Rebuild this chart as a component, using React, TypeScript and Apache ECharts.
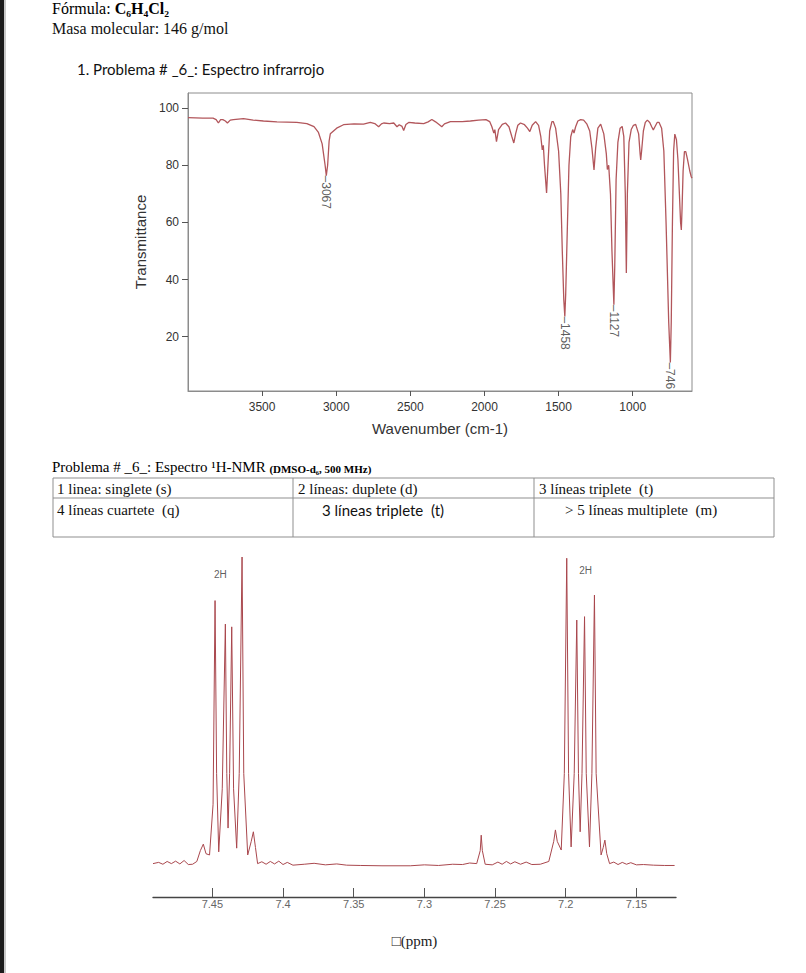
import React, { useEffect, useRef } from 'react';
import * as echarts from 'echarts';

// ---------- IR spectrum data ----------
const irWavenumber = [
  4000, 3900, 3831, 3810, 3795, 3780, 3765, 3748, 3734, 3715, 3694, 3626, 3560, 3491, 3400, 3266, 3198, 3150, 3120, 3095,
  3075, 3067, 3058, 3048, 3040, 2997, 2951, 2880, 2816, 2770, 2740, 2714, 2695, 2680, 2640, 2612, 2590, 2575, 2556, 2545,
  2530, 2511, 2470, 2410, 2380, 2355, 2330, 2300, 2288, 2270, 2230, 2150, 2095, 2040, 1990, 1965, 1950, 1937, 1930, 1919,
  1905, 1880, 1858, 1835, 1815, 1802, 1790, 1775, 1757, 1730, 1710, 1694, 1678, 1655, 1635, 1620, 1610, 1603, 1595, 1581,
  1570, 1560, 1545, 1536, 1520, 1500, 1485, 1475, 1465, 1458, 1452, 1440, 1430, 1418, 1405, 1396, 1385, 1370, 1351, 1331,
  1310, 1290, 1275, 1261, 1250, 1235, 1216, 1195, 1178, 1171, 1162, 1150, 1140, 1127, 1121, 1112, 1100, 1085, 1071, 1060,
  1050, 1043, 1036, 1025, 1010, 995, 980, 960, 950, 946, 940, 928, 915, 901, 885, 872, 861, 850, 835, 822,
  805, 790, 775, 757, 746, 740, 732, 724, 716, 705, 695, 685, 677, 672, 667, 660, 651, 642, 630, 615,
  605, 600,
];
const irTransmittance = [
  96.7, 96.5, 96.5, 96.0, 94.8, 96.0, 96.0, 95.5, 94.8, 95.8, 96.0, 96.3, 95.8, 95.5, 95.2, 95.0, 94.6, 93.5, 91.5, 87.5,
  80.0, 76.4, 80.0, 88.5, 91.0, 93.0, 94.2, 94.5, 94.4, 95.0, 94.6, 93.5, 94.5, 94.8, 94.6, 94.8, 93.5, 94.2, 93.6, 92.2,
  94.3, 95.0, 94.8, 94.6, 95.2, 96.0, 95.2, 94.0, 93.5, 94.5, 95.3, 95.3, 95.5, 95.8, 96.0, 95.3, 93.5, 91.3, 92.5, 88.3,
  92.5, 94.3, 94.8, 93.5, 90.0, 87.8, 91.0, 94.0, 94.8, 94.2, 93.0, 91.8, 94.0, 95.3, 94.0, 90.0, 85.4, 87.0, 80.0, 70.3,
  82.0, 92.0, 95.3, 95.3, 93.0, 85.0, 70.0, 50.0, 33.0, 27.1, 35.0, 60.0, 80.0, 90.0, 92.5, 91.3, 93.5, 95.5, 96.0, 95.8,
  94.5, 92.0, 86.0, 78.4, 86.0, 93.0, 94.4, 91.0, 84.0, 78.5, 80.0, 70.0, 50.0, 31.2, 45.0, 75.0, 88.0, 93.0, 93.6, 90.0,
  70.0, 42.3, 70.0, 88.0, 92.5, 94.0, 94.3, 91.0, 84.0, 81.9, 85.0, 92.0, 95.0, 95.8, 95.0, 93.5, 92.4, 93.5, 95.0, 95.0,
  93.0, 85.0, 60.0, 25.0, 11.0, 25.0, 60.0, 85.0, 90.9, 89.0, 82.0, 70.0, 60.0, 57.4, 65.0, 78.0, 84.8, 84.8, 82.0, 78.0,
  76.0, 75.5,
];
const irPeakWavenumber = [3067, 1458, 1127, 746];
const irPeakTransmittance = [76.4, 27.1, 31.2, 11.0];
const irPeakLabels = ['–3067', '–1458', '–1127', '–746'];
const irXTicks = [3500, 3000, 2500, 2000, 1500, 1000];
const irYTicks = [20, 40, 60, 80, 100];

// ---------- 1H-NMR spectrum data ----------
const nmrPpm = [
  7.492, 7.488, 7.485, 7.482, 7.479, 7.476, 7.473, 7.47, 7.467, 7.464, 7.461, 7.4585, 7.4564, 7.4545, 7.452, 7.4495,
  7.4481, 7.447, 7.4455, 7.443, 7.4408, 7.4398, 7.4389, 7.4378, 7.4363, 7.435, 7.4328, 7.431, 7.429, 7.4278, 7.425,
  7.4225, 7.421, 7.4195, 7.418, 7.415, 7.412, 7.409, 7.406, 7.403, 7.4, 7.397, 7.393, 7.385, 7.378, 7.37, 7.362, 7.355,
  7.345, 7.33, 7.31, 7.3, 7.29, 7.28, 7.273, 7.268, 7.263, 7.2605, 7.2598, 7.259, 7.257, 7.252, 7.248, 7.245, 7.242,
  7.239, 7.236, 7.232, 7.228, 7.224, 7.218, 7.212, 7.2085, 7.2073, 7.206, 7.2032, 7.201, 7.1993, 7.198, 7.1962, 7.194,
  7.1922, 7.191, 7.1898, 7.1885, 7.1867, 7.1855, 7.1832, 7.1815, 7.1797, 7.1785, 7.175, 7.1735, 7.1723, 7.171, 7.169,
  7.166, 7.163, 7.16, 7.157, 7.154, 7.15, 7.145, 7.138, 7.13, 7.123,
];
const nmrIntensity = [
  0.8, 1.2, 0.6, 1.5, 0.8, 1.6, 0.7, 1.8, 0.5, 0.6, 1.5, 5, 7.1, 4, 3.6, 20,
  85.9, 30, 4.6, 25, 78.3, 30, 12.3, 30, 77.4, 25, 5.8, 30, 100, 30, 3.6,
  8, 11.1, 6, 0.8, 1.4, 0.6, 1.5, 0.7, 1.6, 0.5, 1.2, 0.3, 0.6, 0.9, 0.4, 0.7, 0.3,
  0.2, 0.1, 0.1, 0.4, 0.2, 0.6, 0.5, 1.0, 0.8, 5, 10, 5, 0.6, 0.4, 1.3, 0.6, 1.5,
  0.7, 1.4, 0.6, 1.3, 0.5, 0.6, 1.5, 8, 11.7, 8, 5.2, 30, 99.6, 30, 6.2, 30,
  79.6, 30, 11.1, 30, 80.7, 30, 6.2, 30, 87.7, 30, 3.6, 6, 8.4, 4, 0.8,
  1.3, 0.5, 1.2, 0.6, 1.1, 0.4, 0.5, 0.3, 0.2, 0.2,
];
const nmrXTicks = [7.45, 7.4, 7.35, 7.3, 7.25, 7.2, 7.15];
const nmrIntegralPpm = [7.4443, 7.186];
const nmrIntegralIntensity = [94.2, 95.5];
const nmrIntegralLabels = ['2H', '2H'];

// ---------- Text ----------
const tableRows = [
  ['1 linea: singlete (s)', '2 líneas: duplete (d)', '3 líneas triplete\u00a0 (t)'],
  ['4 líneas cuartete\u00a0 (q)', '3 líneas triplete\u00a0 (t)', '> 5 líneas multiplete\u00a0 (m)'],
];

const SERIF = '"Liberation Serif", "Times New Roman", serif';
const SANS = '"Liberation Sans", Arial, sans-serif';
const CALIBRI = 'Lato, "Open Sans", sans-serif';
const IR_COLOR = '#b2565b';
const NMR_COLOR = '#a9474d';

export default function App() {
  const ref = useRef<HTMLDivElement>(null);

  useEffect(() => {
    if (!ref.current) return;
    const chart = echarts.init(ref.current, undefined, { renderer: 'svg' });

    const irData = irWavenumber.map((w, i) => [w, irTransmittance[i]]);
    const irPeaks = irPeakWavenumber.map((w, i) => [w, irPeakTransmittance[i]]);
    const nmrData = nmrPpm.map((p, i) => [p, nmrIntensity[i]]);
    const nmrInt = nmrIntegralPpm.map((p, i) => [p, nmrIntegralIntensity[i]]);

    // table geometry
    const tLeft = 53, tRight = 774;
    const colX = [53, 293, 534, 774];
    const rowY = [478, 498, 537];
    const textColX = [57, 298, 539];
    const row2X = [57, 322, 565];
    const tableGraphics: any[] = [];
    rowY.forEach((y) => {
      tableGraphics.push({ type: 'line', shape: { x1: tLeft, y1: y, x2: tRight, y2: y }, style: { stroke: '#8f8f8f', lineWidth: 1 } });
    });
    colX.forEach((x) => {
      tableGraphics.push({ type: 'line', shape: { x1: x, y1: rowY[0], x2: x, y2: rowY[2] }, style: { stroke: '#8f8f8f', lineWidth: 1 } });
    });
    tableRows[0].forEach((t, i) => {
      tableGraphics.push({ type: 'text', x: textColX[i], y: 489, style: { text: t, font: `15px ${SERIF}`, fill: '#111', verticalAlign: 'middle' } });
    });
    tableRows[1].forEach((t, i) => {
      tableGraphics.push({ type: 'text', x: row2X[i], y: 510, style: { text: t, font: i === 1 ? `15px ${CALIBRI}` : `15px ${SERIF}`, fill: '#111', verticalAlign: 'middle' } });
    });

    const plain = (v: number) => String(v);

    chart.setOption({
      animation: false,
      backgroundColor: '#ffffff',
      grid: [
        { left: 188, top: 93, width: 504, height: 298, show: true, borderColor: '#8c8c8c', borderWidth: 1 },
        { left: 153, top: 557, width: 523, height: 340 },
      ],
      xAxis: [
        {
          type: 'value', gridIndex: 0, min: 600, max: 4000, inverse: true,
          axisLine: { show: true, onZero: false, lineStyle: { color: '#8c8c8c', width: 1 } },
          axisTick: { show: true, length: 5, customValues: irXTicks, lineStyle: { color: '#555' } },
          axisLabel: { customValues: irXTicks, formatter: plain, fontSize: 12, color: '#333', fontFamily: SANS, margin: 10 },
          splitLine: { show: false },
          name: 'Wavenumber (cm-1)', nameLocation: 'middle', nameGap: 30,
          nameTextStyle: { fontSize: 15, color: '#333', fontFamily: SANS },
        },
        {
          type: 'value', gridIndex: 1, min: 7.122, max: 7.492, inverse: true,
          axisLine: { show: true, onZero: false, lineStyle: { color: '#444', width: 1.4 } },
          axisTick: { show: true, inside: true, length: 9, customValues: nmrXTicks, lineStyle: { color: '#555' } },
          axisLabel: { customValues: nmrXTicks, formatter: plain, fontSize: 11, color: '#666', fontFamily: SANS, margin: 1 },
          splitLine: { show: false },
          name: '□(ppm)', nameLocation: 'middle', nameGap: 36,
          nameTextStyle: { fontSize: 15, color: '#222', fontFamily: SERIF },
        },
      ],
      yAxis: [
        {
          type: 'value', gridIndex: 0, min: 1, max: 105.3,
          axisLine: { show: true, onZero: false, lineStyle: { color: '#8c8c8c', width: 1 } },
          axisTick: { show: true, length: 6, customValues: irYTicks, lineStyle: { color: '#555' } },
          axisLabel: { customValues: irYTicks, formatter: plain, fontSize: 12, color: '#333', fontFamily: SANS, margin: 9 },
          splitLine: { show: false },
          name: 'Transmittance', nameLocation: 'middle', nameGap: 34,
          nameTextStyle: { fontSize: 15, color: '#333', fontFamily: SANS },
        },
        { type: 'value', gridIndex: 1, min: -10, max: 100, show: false },
      ],
      series: [
        {
          type: 'line', xAxisIndex: 0, yAxisIndex: 0, data: irData, showSymbol: false, silent: true,
          lineStyle: { color: IR_COLOR, width: 1.3 },
        },
        {
          type: 'scatter', xAxisIndex: 0, yAxisIndex: 0, data: irPeaks, symbolSize: 1, silent: true,
          itemStyle: { color: 'transparent' },
          label: {
            show: true, position: 'inside', rotate: -90, align: 'left', verticalAlign: 'middle',
            formatter: (p: any) => irPeakLabels[p.dataIndex], fontSize: 12, color: '#333', fontFamily: SANS,
          },
        },
        {
          type: 'line', xAxisIndex: 1, yAxisIndex: 1, data: nmrData, showSymbol: false, silent: true,
          lineStyle: { color: NMR_COLOR, width: 1 },
        },
        {
          type: 'scatter', xAxisIndex: 1, yAxisIndex: 1, data: nmrInt, symbolSize: 1, silent: true,
          itemStyle: { color: 'transparent' },
          label: {
            show: true, position: 'inside', formatter: (p: any) => nmrIntegralLabels[p.dataIndex],
            fontSize: 10, color: '#333', fontFamily: SANS,
          },
        },
      ],
      graphic: [
        { type: 'rect', shape: { x: 0, y: 0, width: 4, height: 973 }, style: { fill: '#1b1b1b' } },
        { type: 'rect', shape: { x: 4, y: 0, width: 2, height: 973 }, style: { fill: '#c8c8c8' } },
        {
          type: 'text', x: 52, y: 8,
          style: {
            text: '{n|Fórmula: }{b|C₆H₄Cl₂}',
            rich: {
              n: { fontSize: 16, fontFamily: SERIF, color: '#111', verticalAlign: 'bottom' },
              b: { fontSize: 16, fontFamily: SERIF, fontWeight: 'bold', color: '#111', verticalAlign: 'bottom' },
            },
            verticalAlign: 'middle',
          },
        },
        { type: 'text', x: 52, y: 28, style: { text: 'Masa molecular: 146 g/mol', font: `16px ${SERIF}`, fill: '#111', verticalAlign: 'middle' } },
        { type: 'text', x: 77, y: 69, style: { text: '1. Problema # _6_: Espectro infrarrojo', font: `15px ${CALIBRI}`, fill: '#111', verticalAlign: 'middle' } },
        {
          type: 'text', x: 52, y: 467,
          style: {
            text: '{n|Problema # _6_: Espectro ¹H-NMR }{b|(DMSO-d₆, 500 MHz)}',
            rich: {
              n: { fontSize: 15, fontFamily: SERIF, color: '#111', verticalAlign: 'bottom' },
              b: { fontSize: 11, fontFamily: SERIF, fontWeight: 'bold', color: '#111', verticalAlign: 'bottom' },
            },
            verticalAlign: 'middle',
          },
        },
        ...tableGraphics,
      ],
    });

    return () => chart.dispose();
  }, []);

  return (
    <div
      ref={ref}
      style={{ position: 'fixed', left: 0, top: 0, width: 806, height: 973, background: '#fff' }}
    />
  );
}
